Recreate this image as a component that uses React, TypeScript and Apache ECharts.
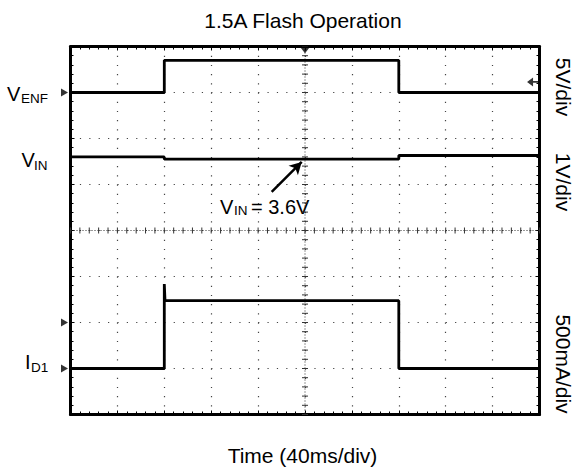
import React, { useEffect, useRef } from "react";
import * as echarts from "echarts";

// ---- Data (read from the scope capture) ----
// time in ms, 40 ms/div, 10 divisions
const TIME_MIN = 0;
const TIME_MAX = 400;
const TIME_DIV = 40;
const DIVS_Y = 8;

// V_ENF channel: 5 V/div, ground marker at division 7
const VENF_SCALE = 5;
const VENF_GROUND = 7;
const VENF_TIME = [0, 80, 80, 280, 280, 400];
const VENF_VOLTS = [0, 0, 3.5, 3.5, 0, 0];

// V_IN channel: 1 V/div, ground marker at division 2
const VIN_SCALE = 1;
const VIN_GROUND = 2;
const VIN_TIME = [0, 80, 80, 280, 280, 400];
const VIN_VOLTS = [3.6, 3.6, 3.55, 3.55, 3.63, 3.63];

// I_D1 channel: 500 mA/div, ground marker at division 1
const ID1_SCALE = 500;
const ID1_GROUND = 1;
const ID1_TIME = [0, 80, 80, 80.6, 280, 280, 400];
const ID1_MA = [0, 0, 918, 737, 737, 0, 0];

// markers
const GROUND_MARKERS = [VENF_GROUND, VIN_GROUND, ID1_GROUND];
const TRIGGER_TIME = 200;
const TRIGGER_LEVEL_DIV = 7.23;

// annotation arrow (data coords: ms, divisions)
const ARROW_FROM = [171.6, 4.84];
const ARROW_TO = [197.2, 5.49];

const FONT = "'Liberation Sans', Arial, Helvetica, sans-serif";

const toDivs = (times: number[], vals: number[], ground: number, scale: number) =>
  times.map((t, i) => [t, ground + vals[i] / scale]);

function txt(
  text: string,
  x: number,
  y: number,
  size: number,
  align: string = "left",
  rotation = 0
) {
  return {
    type: "text",
    x,
    y,
    rotation,
    silent: true,
    style: {
      text,
      fontSize: size,
      fontFamily: FONT,
      fill: "#000",
      align,
      verticalAlign: "middle",
      textAlign: align,
      textVerticalAlign: "middle",
    },
  };
}

export default function App() {
  const ref = useRef<HTMLDivElement>(null);

  useEffect(() => {
    if (!ref.current) return;
    const chart = echarts.init(ref.current, null, { renderer: "svg" });

    const border = { lineStyle: { color: "#000", width: 3 } };
    const tick = { show: true, inside: true, length: 4, lineStyle: { color: "#000", width: 1 } };
    const minor = { show: true, splitNumber: 5, length: 3, lineStyle: { color: "#000", width: 1 } };

    const xBase = {
      type: "value",
      min: TIME_MIN,
      max: TIME_MAX,
      interval: TIME_DIV,
      axisLine: { show: true, onZero: false, ...border },
      axisTick: tick,
      minorTick: minor,
      axisLabel: { show: false },
    };
    const yBase = {
      type: "value",
      min: 0,
      max: DIVS_Y,
      interval: 1,
      axisLine: { show: true, onZero: false, ...border },
      axisTick: tick,
      minorTick: minor,
      axisLabel: { show: false },
    };

    const traceStyle = { color: "#000", width: 2.8 };

    const option: any = {
      animation: false,
      backgroundColor: "#fff",
      grid: { left: 70.5, top: 46.5, width: 469, height: 368, containLabel: false },
      xAxis: [
        {
          ...xBase,
          position: "bottom",
          splitLine: { show: true, lineStyle: { color: "#444", width: 1.2, type: [1.2, 8] } },
        },
        { ...xBase, position: "top", splitLine: { show: false } },
      ],
      yAxis: [
        {
          ...yBase,
          position: "left",
          splitLine: { show: true, lineStyle: { color: "#444", width: 1.2, type: [1.2, 8.18] } },
        },
        { ...yBase, position: "right", splitLine: { show: false } },
      ],
      series: [
        {
          type: "custom",
          name: "crosshair",
          silent: true,
          clip: false,
          data: [[TRIGGER_TIME, DIVS_Y / 2]],
          renderItem: (_params: any, api: any) => {
            const children: any[] = [];
            const l = api.coord([TIME_MIN, DIVS_Y / 2]);
            const r = api.coord([TIME_MAX, DIVS_Y / 2]);
            const t = api.coord([(TIME_MIN + TIME_MAX) / 2, DIVS_Y]);
            const b = api.coord([(TIME_MIN + TIME_MAX) / 2, 0]);
            const dash = { stroke: "#333", lineWidth: 1, lineDash: [1, 2] };
            children.push({ type: "line", shape: { x1: l[0], y1: l[1], x2: r[0], y2: r[1] }, style: dash });
            children.push({ type: "line", shape: { x1: t[0], y1: t[1], x2: b[0], y2: b[1] }, style: dash });
            const tickStyle = { stroke: "#333", lineWidth: 1 };
            const nx = ((TIME_MAX - TIME_MIN) / TIME_DIV) * 5;
            for (let i = 0; i <= nx; i++) {
              const p = api.coord([TIME_MIN + (i * TIME_DIV) / 5, DIVS_Y / 2]);
              children.push({ type: "line", shape: { x1: p[0], y1: p[1] - 3, x2: p[0], y2: p[1] + 3 }, style: tickStyle });
            }
            for (let j = 0; j <= DIVS_Y * 5; j++) {
              const p = api.coord([(TIME_MIN + TIME_MAX) / 2, j / 5]);
              children.push({ type: "line", shape: { x1: p[0] - 3, y1: p[1], x2: p[0] + 3, y2: p[1] }, style: tickStyle });
            }
            return { type: "group", children };
          },
        },
        {
          type: "line",
          name: "VENF",
          data: toDivs(VENF_TIME, VENF_VOLTS, VENF_GROUND, VENF_SCALE),
          showSymbol: false,
          lineStyle: traceStyle,
        },
        {
          type: "line",
          name: "VIN",
          data: toDivs(VIN_TIME, VIN_VOLTS, VIN_GROUND, VIN_SCALE),
          showSymbol: false,
          lineStyle: traceStyle,
          markLine: {
            silent: true,
            symbol: ["none", "arrow"],
            symbolSize: [10, 12],
            label: { show: false },
            lineStyle: { color: "#000", width: 2.5, type: "solid" },
            data: [[{ coord: ARROW_FROM }, { coord: ARROW_TO }]],
          },
        },
        {
          type: "line",
          name: "ID1",
          data: toDivs(ID1_TIME, ID1_MA, ID1_GROUND, ID1_SCALE),
          showSymbol: false,
          lineStyle: traceStyle,
        },
        {
          type: "scatter",
          name: "ground markers",
          clip: false,
          silent: true,
          symbol: "triangle",
          symbolRotate: -90,
          symbolSize: [8, 7],
          itemStyle: { color: "#000" },
          data: GROUND_MARKERS.map((g) => [TIME_MIN - 5.1, g]),
        },
        {
          type: "scatter",
          name: "trigger position",
          clip: false,
          silent: true,
          symbol: "triangle",
          symbolRotate: 180,
          symbolSize: [11, 7],
          itemStyle: { color: "#000" },
          data: [[TRIGGER_TIME, DIVS_Y - 0.07]],
        },
        {
          type: "scatter",
          name: "trigger level",
          clip: false,
          silent: true,
          symbol: "path://M0,5 L7,0 L7,4 L14,4 L14,6 L7,6 L7,10 Z",
          symbolSize: [12, 9],
          itemStyle: { color: "#000" },
          data: [[394.5, TRIGGER_LEVEL_DIV]],
        },
      ],
      graphic: [
        txt("1.5A Flash Operation", 303, 20, 21, "center"),
        txt("Time (40ms/div)", 302.5, 455, 21, "center"),
        txt("V", 7, 94, 20),
        txt("ENF", 21, 98, 13.5),
        txt("V", 21.5, 160, 20),
        txt("IN", 34, 165.5, 13.5),
        txt("I", 25, 362, 20),
        txt("D1", 31, 367, 13.5),
        txt("V", 220, 207, 20),
        txt("IN", 234, 210, 13.5),
        txt("= 3.6V", 251, 207, 20),
        txt("5V/div", 563, 87, 21, "center", -Math.PI / 2),
        txt("1V/div", 563, 182, 21, "center", -Math.PI / 2),
        txt("500mA/div", 563, 364, 21, "center", -Math.PI / 2),
      ],
    };

    chart.setOption(option);
    return () => chart.dispose();
  }, []);

  return (
    <div
      ref={ref}
      style={{ position: "fixed", left: 0, top: 0, width: 574, height: 471, background: "#fff" }}
    />
  );
}
